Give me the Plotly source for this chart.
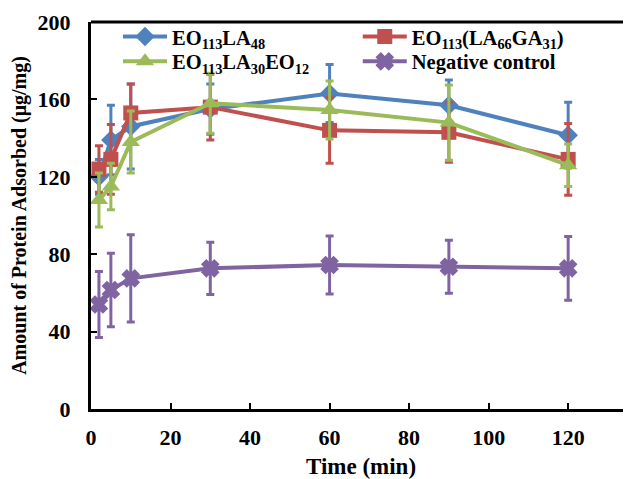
import plotly.graph_objects as go

time_min = [2, 5, 10, 30, 60, 90, 120]

series_names = [
    "EO<sub>113</sub>LA<sub>48</sub>",
    "EO<sub>113</sub>(LA<sub>66</sub>GA<sub>31</sub>)",
    "EO<sub>113</sub>LA<sub>30</sub>EO<sub>12</sub>",
    "Negative control",
]

blue_vals = [120, 139, 146, 155, 163, 157, 141.5]
blue_err = [9, 18, 22, 13, 15, 13, 17]

red_vals = [124, 129, 153, 156, 144, 143, 129]
red_err = [12, 18, 15, 17, 17, 15.5, 18.5]

green_vals = [108, 115, 138, 158, 154.5, 148, 126]
green_err = [14, 12, 16, 15.5, 15, 19.5, 11]

purple_vals = [54, 61.5, 67.5, 72.7, 74.4, 73.5, 72.7]
purple_err = [17, 19, 22.5, 13.5, 15, 13.7, 16.5]

x_ticks = [0, 20, 40, 60, 80, 100, 120]
y_ticks = [0, 40, 80, 120, 160, 200]

colors = ["#4F81BD", "#C0504D", "#9BBB59", "#8064A2"]
symbols = ["diamond", "square", "triangle-up", "x"]
msizes = [15, 15, 16, 14]
legends = ["legend", "legend2", "legend3", "legend4"]

FONT = "Liberation Serif, Times New Roman, serif"

fig = go.Figure()
all_vals = [blue_vals, red_vals, green_vals, purple_vals]
all_errs = [blue_err, red_err, green_err, purple_err]
for i in range(4):
    fig.add_trace(go.Scatter(
        x=time_min, y=all_vals[i], name=series_names[i],
        mode="lines+markers",
        line=dict(color=colors[i], width=4),
        marker=dict(symbol=symbols[i], size=msizes[i], color=colors[i],
                    line=dict(color=colors[i], width=2 if i == 3 else 0)),
        error_y=dict(type="data", array=all_errs[i], visible=True,
                     color=colors[i], thickness=3, width=4),
        legend=legends[i],
        cliponaxis=False,
    ))

legend_common = dict(
    font=dict(family=FONT, size=20.5, color="black", weight="bold"),
    bgcolor="rgba(0,0,0,0)",
    orientation="v",
    xanchor="left", yanchor="middle",
    itemwidth=44,
)

fig.update_layout(
    width=623, height=471,
    margin=dict(l=83, r=0, t=14, b=70),
    paper_bgcolor="white", plot_bgcolor="white",
    font=dict(family=FONT, color="black"),
    showlegend=True,
    legend=dict(x=0.05, y=0.962, **legend_common),
    legend2=dict(x=0.494, y=0.962, **legend_common),
    legend3=dict(x=0.05, y=0.898, **legend_common),
    legend4=dict(x=0.494, y=0.898, **legend_common),
    xaxis=dict(
        range=[0, 135.8], tickvals=x_ticks, ticktext=[str(v) for v in x_ticks],
        ticks="inside", ticklen=6, tickwidth=2, tickcolor="black",
        showline=True, linecolor="black", linewidth=3,
        showgrid=False, zeroline=False, automargin=False,
        ticklabelstandoff=7,
        tickfont=dict(family=FONT, size=22, color="black", weight="bold"),
        title=dict(text="Time (min)", standoff=10,
                   font=dict(family=FONT, size=23, color="black", weight="bold")),
    ),
    yaxis=dict(
        range=[0, 200], tickvals=y_ticks, ticktext=[str(v) for v in y_ticks],
        ticks="inside", ticklen=6, tickwidth=2, tickcolor="black",
        showline=True, linecolor="black", linewidth=3,
        showgrid=False, zeroline=False, automargin=False,
        ticklabelstandoff=13,
        tickfont=dict(family=FONT, size=22, color="black", weight="bold"),
        title=dict(text="Amount of Protein Adsorbed (μg/mg)", standoff=6,
                   font=dict(family=FONT, size=20, color="black", weight="bold")),
    ),
    shapes=[dict(type="line", xref="paper", yref="paper", x0=0, x1=1, y0=1, y1=1,
                 line=dict(color="black", width=3))],
)

fig.write_html("out.html")
